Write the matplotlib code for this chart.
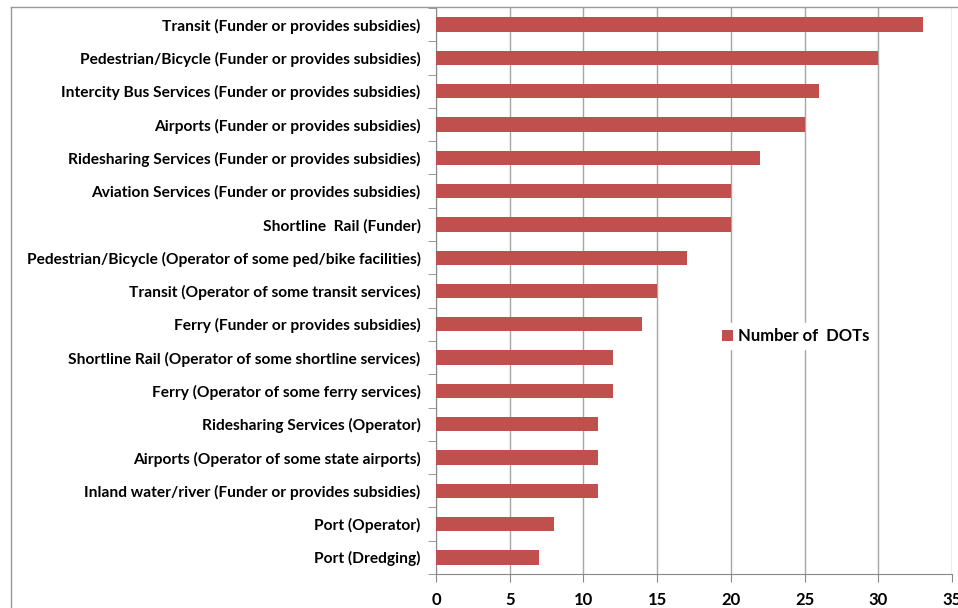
import matplotlib.pyplot as plt
from matplotlib.lines import Line2D
import numpy as np

categories = [
    'Transit (Funder or provides subsidies)',
    'Pedestrian/Bicycle (Funder or provides subsidies)',
    'Intercity Bus Services (Funder or provides subsidies)',
    'Airports (Funder or provides subsidies)',
    'Ridesharing Services (Funder or provides subsidies)',
    'Aviation Services (Funder or provides subsidies)',
    'Shortline  Rail (Funder)',
    'Pedestrian/Bicycle (Operator of some ped/bike facilities)',
    'Transit (Operator of some transit services)',
    'Ferry (Funder or provides subsidies)',
    'Shortline Rail (Operator of some shortline services)',
    'Ferry (Operator of some ferry services)',
    'Ridesharing Services (Operator)',
    'Airports (Operator of some state airports)',
    'Inland water/river (Funder or provides subsidies)',
    'Port (Operator)',
    'Port (Dredging)',
]
num_dots = [33, 30, 26, 25, 22, 20, 20, 17, 15, 14, 12, 12, 11, 11, 11, 8, 7]
xticks = [0, 5, 10, 15, 20, 25, 30, 35]

plt.rcParams['font.family'] = ['Lato', 'DejaVu Sans']

fig = plt.figure(figsize=(9.58, 6.08), dpi=100)
ax = fig.add_axes([436 / 958, 1 - 574 / 608, (952 - 436) / 958, (574 - 8) / 608])

y = np.arange(len(categories))[::-1]
ax.barh(y, num_dots, height=0.43, color='#C0504D', label='Number of  DOTs', zorder=3)

ax.set_xlim(0, 35)
ax.set_ylim(-0.5, len(categories) - 0.5)
ax.set_xticks(xticks)
ax.set_xticklabels([str(t) for t in xticks], fontsize=12, fontweight='bold')
ax.set_yticks(y)
ax.set_yticklabels(categories, fontsize=11.2, fontweight='bold')
ax.set_yticks(np.arange(len(categories) + 1) - 0.5, minor=True)
ax.tick_params(axis='y', which='major', length=0, pad=11)
ax.tick_params(axis='y', which='minor', length=6, color='#888888', direction='out')
ax.tick_params(axis='x', length=6, color='#888888', direction='out', pad=7)

ax.grid(axis='x', color='#A6A6A6', linewidth=1, zorder=0)
for s in ['top', 'right']:
    ax.spines[s].set_visible(False)
for s in ['left', 'bottom']:
    ax.spines[s].set_color('#888888')

leg = ax.legend(loc='center left', bbox_to_anchor=(0.528, 0.42), frameon=True,
                prop={'weight': 'bold', 'size': 12}, handlelength=0.7, handleheight=0.7,
                handletextpad=0.3, borderpad=0.3)
leg.get_frame().set_edgecolor('white')
leg.get_frame().set_facecolor('white')
leg.get_frame().set_alpha(1)

# outer chart border (cropped on right/bottom)
fig.add_artist(Line2D([11 / 958, 11 / 958], [0, 1 - 7 / 608], transform=fig.transFigure, color='#999999', lw=1))
fig.add_artist(Line2D([11 / 958, 1], [1 - 7 / 608, 1 - 7 / 608], transform=fig.transFigure, color='#999999', lw=1))

fig.savefig('out.png', dpi=100)
